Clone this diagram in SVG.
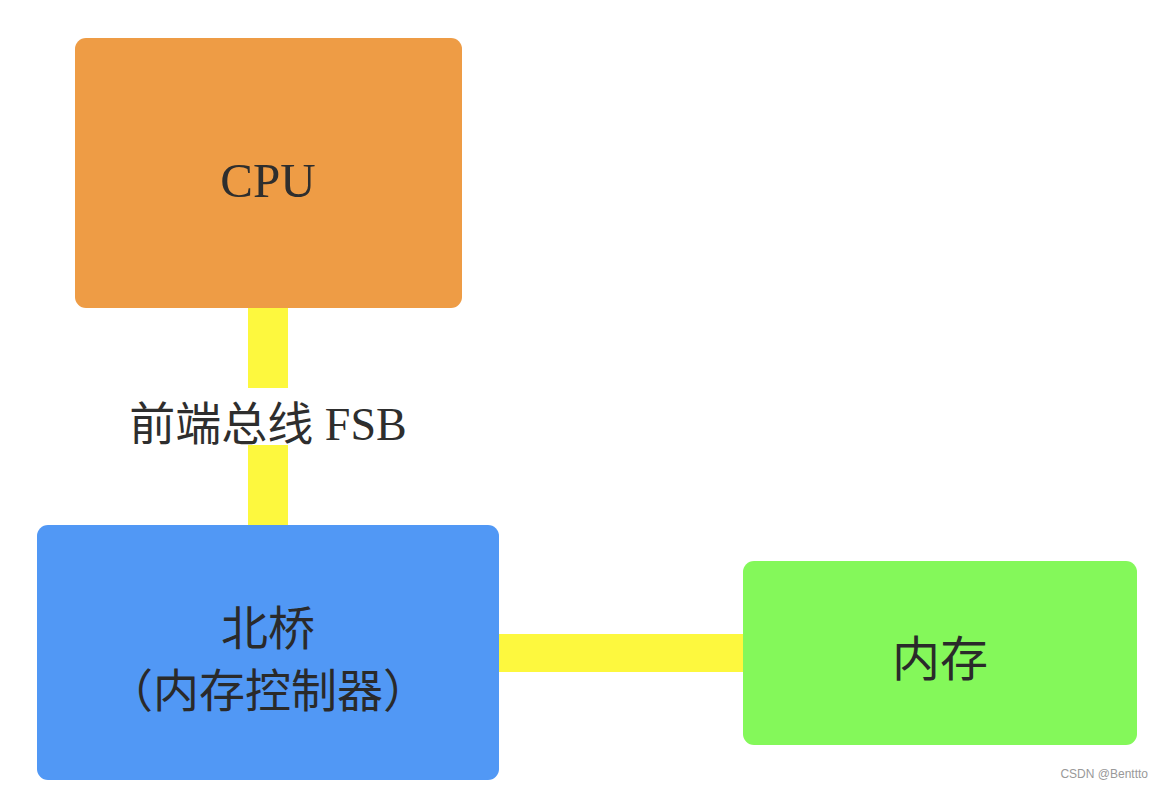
<svg xmlns="http://www.w3.org/2000/svg" width="1164" height="789" viewBox="0 0 1164 789">
<style>
.lbl{font-family:"Liberation Serif","Noto Sans CJK SC",serif;fill:#2e2e2e;text-anchor:middle}
.cjk{font-family:"Noto Sans CJK SC","Liberation Sans",sans-serif;fill:#2a2a2a;text-anchor:middle}
.bus{fill:#fdf83e}
</style>
<rect width="1164" height="789" fill="#ffffff"/>
<g id="connectors">
<rect class="bus" x="248" y="306" width="40" height="82"/>
<rect class="bus" x="248" y="445" width="40" height="82"/>
<rect class="bus" x="496" y="634" width="249" height="38"/>
<text class="lbl" x="268" y="440" font-size="46">前端总线 FSB</text>
</g>
<g id="cpu">
<rect x="75" y="38" width="387" height="270" rx="11" fill="#ee9c45"/>
<text class="lbl" x="268" y="197" font-size="49">CPU</text>
</g>
<g id="northbridge">
<rect x="37" y="525" width="462" height="255" rx="11" fill="#5198f5"/>
<text class="cjk" x="268" y="645" font-size="47">北桥</text>
<text class="cjk" x="268" y="707" font-size="46">（内存控制器）</text>
</g>
<g id="memory">
<rect x="743" y="561" width="394" height="184" rx="11" fill="#84f85a"/>
<text class="cjk" x="940" y="676" font-size="48">内存</text>
</g>
<text x="1148" y="778" font-family="Liberation Sans, sans-serif" font-size="12" fill="#999999" text-anchor="end">CSDN @Benttto</text>
</svg>
